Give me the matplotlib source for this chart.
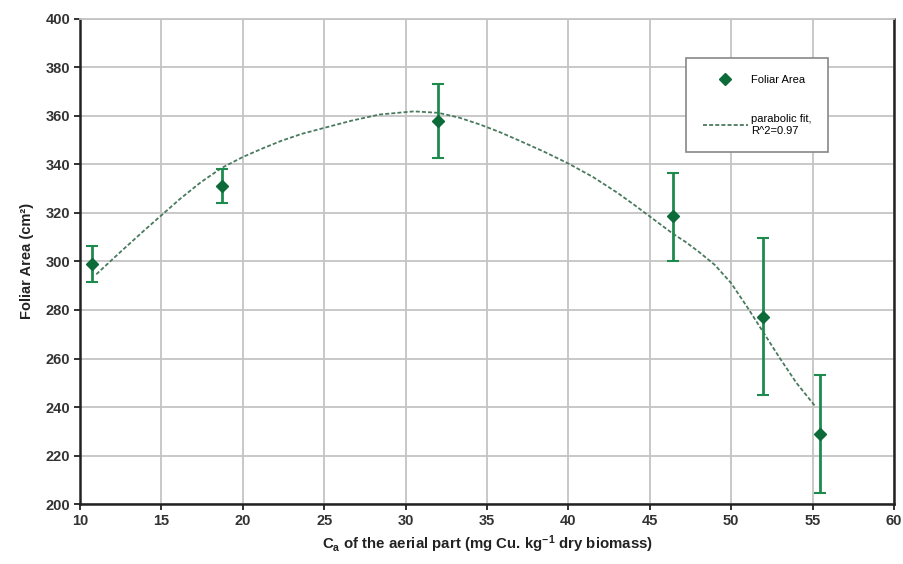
import matplotlib
matplotlib.use("Agg")
import matplotlib.pyplot as plt

plt.rcParams['font.family'] = ['Liberation Sans', 'DejaVu Sans']
plt.rcParams['mathtext.fontset'] = 'custom'
plt.rcParams['mathtext.rm'] = 'Liberation Sans:bold'
plt.rcParams['mathtext.bf'] = 'Liberation Sans:bold'
plt.rcParams['mathtext.it'] = 'Liberation Sans:bold'

# measured data
cu_conc = [10.76, 18.74, 31.97, 46.44, 51.93, 55.45]
foliar_area = [299.0, 330.9, 358.0, 318.5, 277.2, 228.9]
err_lo = [7.6, 7.0, 15.5, 18.2, 32.4, 24.4]
err_hi = [7.5, 7.3, 14.9, 18.0, 32.4, 24.5]

# parabolic fit curve
fit_x = [11.0, 12.5, 13.9, 15.0, 16.1, 17.4, 18.7, 20.0, 21.2, 22.3, 23.6, 25.0,
         26.7, 28.4, 30.5, 32.0, 33.3, 34.6, 35.8, 37.0, 38.5, 40.0, 41.5, 43.0,
         44.0, 45.0, 46.4, 47.2, 48.0, 49.0, 50.0, 51.0, 52.0, 53.0, 54.0, 55.2]
fit_y = [294.7, 304.0, 312.5, 319.0, 325.5, 332.5, 338.5, 343.0, 346.5, 349.5, 352.5, 355.0,
         358.0, 360.5, 361.8, 361.2, 359.2, 356.3, 353.2, 349.7, 345.2, 340.3, 334.8, 328.3,
         323.5, 318.5, 311.5, 308.0, 304.0, 298.5, 291.0, 281.0, 270.5, 260.0, 250.0, 240.0]

xticks = [10, 15, 20, 25, 30, 35, 40, 45, 50, 55, 60]
yticks = [200, 220, 240, 260, 280, 300, 320, 340, 360, 380, 400]

fig = plt.figure(figsize=(9.04, 5.64), dpi=100)
ax = fig.add_axes([0.0885, 0.106, 0.9005, 0.861])

green = '#1f8a4e'
dark = '#0d6b3a'

ax.plot(fit_x, fit_y, linestyle=(0, (2.2, 1.2)), color='#4a7a5e', lw=1.3,
        label='parabolic fit,\nR^2=0.97', zorder=3)
ax.errorbar(cu_conc, foliar_area, yerr=[err_lo, err_hi], fmt='none',
            ecolor=green, elinewidth=2.0, capsize=4, capthick=1.5, zorder=4)
ax.plot(cu_conc, foliar_area, linestyle='none', marker='D', markersize=6,
        color=dark, label='Foliar Area', zorder=5)

ax.set_xlim(10, 60)
ax.set_ylim(200, 400)
ax.set_xticks(xticks)
ax.set_yticks(yticks)
ax.grid(True, color='#c4c4c4', lw=1.3)
ax.set_axisbelow(True)
for s in ['left', 'bottom', 'right']:
    ax.spines[s].set_color('#222222')
    ax.spines[s].set_linewidth(1.8)
ax.spines['top'].set_color('#c4c4c4')
ax.spines['top'].set_linewidth(1.3)
ax.tick_params(axis='both', direction='out', length=4, width=1.3, colors='#222222',
               labelsize=10.5, pad=3)
for lbl in ax.get_xticklabels() + ax.get_yticklabels():
    lbl.set_fontweight('bold')
    lbl.set_color('#333333')

ax.set_xlabel(r'$\mathbf{C_a}$ of the aerial part (mg Cu. kg$^{\mathbf{-1}}$ dry biomass)',
              fontsize=10.8, fontweight='bold', color='#222222', labelpad=4)
ax.set_ylabel('Foliar Area (cm²)', fontsize=10.5, fontweight='bold', color='#222222', labelpad=8)

handles, labels = ax.get_legend_handles_labels()
order = [1, 0]
leg = ax.legend([handles[i] for i in order], [labels[i] for i in order],
                loc='upper left', bbox_to_anchor=(0.745, 0.918), fontsize=8,
                frameon=True, fancybox=False, edgecolor='#888888', framealpha=1,
                labelspacing=2.6, handlelength=4.0, borderpad=1.5, handletextpad=0.3,
                borderaxespad=0)
leg.get_frame().set_linewidth(1.2)

fig.savefig('out.png', dpi=100)
